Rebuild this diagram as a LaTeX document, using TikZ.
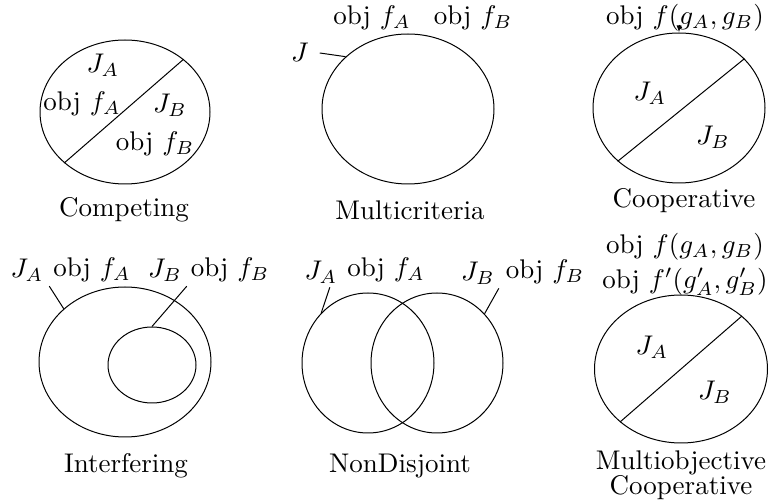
\RequirePackage{fix-cm}
\documentclass[tikz,border=0pt]{standalone}
\usepackage{tikz}
\usetikzlibrary{arrows.meta,shapes.geometric}

\begin{document}
\begin{tikzpicture}[
    x=1pt,y=-1pt,
    set/.style={ellipse,draw,inner sep=0pt},
    lbl/.style={font=\normalsize,scale=2.7,transform shape,inner sep=1pt},
    >={Latex[length=7pt,width=5pt]},line width=1pt
  ]
    \useasboundingbox (0,0) rectangle (777,502);
    % Competing
    \node[set,minimum width=170,minimum height=144] (cmp) at (125,112) {};
    \draw (cmp.220) -- (cmp.42);
    \node[lbl] (cmpJA) at (103,65) {$J_A$};
    \node[lbl] (cmpfA) at (82,104) {obj $f_A$};
    \node[lbl] (cmpJB) at (170,105) {$J_B$};
    \node[lbl] (cmpfB) at (155,144) {obj $f_B$};
    \node[lbl] (cmpcap) at (124,210) {Competing};
    % Multicriteria
    \node[set,minimum width=172,minimum height=150] (mul) at (408,109) {};
    \node[lbl] (mulfA) at (372,18) {obj $f_A$};
    \node[lbl] (mulfB) at (473,18) {obj $f_B$};
    \node[lbl] (mulJ) at (300,52) {$J$};
    \draw[shorten <=7pt] (mulJ.east) -- (mul.140);
    \node[lbl] (mulcap) at (410,210) {Multicriteria};
    % Cooperative
    \node[set,minimum width=172,minimum height=150] (coo) at (679,108) {};
    \draw (coo.221) -- (coo.37);
    \node[lbl] (cooJA) at (650,93) {$J_A$};
    \node[lbl] (cooJB) at (713,137) {$J_B$};
    \node[lbl] (coof) at (685,18) {obj $f(g_A,g_B)$};
    \draw[->] (coof.base -| coo.north) -- (coo.north);
    \node[lbl] (coocap) at (684,201) {Cooperative};
    % Interfering
    \node[set,minimum width=172,minimum height=150] (ifo) at (125,362) {};
    \node[set,minimum width=88,minimum height=76] (ifi) at (152,365) {};
    \node[lbl] (ifJA) at (27,270) {$J_A$};
    \node[lbl] (iffA) at (92,270) {obj $f_A$};
    \node[lbl] (ifJB) at (165,270) {$J_B$};
    \node[lbl] (iffB) at (230,270) {obj $f_B$};
    \draw (iffA.south west) -- (ifo.139);
    \draw (iffB.south west) -- (ifi.north);
    \node[lbl] (ifcap) at (126,466) {Interfering};
    % NonDisjoint
    \node[set,minimum width=132,minimum height=140] (ndl) at (368,363) {};
    \node[set,minimum width=132,minimum height=140] (ndr) at (437,363) {};
    \node[lbl] (ndJA) at (321,272) {$J_A$};
    \node[lbl] (ndfA) at (386,270) {obj $f_A$};
    \node[lbl] (ndJB) at (478,273) {$J_B$};
    \node[lbl] (ndfB) at (545,272) {obj $f_B$};
    \draw (ndJA.-60) -- (ndl.133);
    \draw (ndJB.south east) -- (ndr.46);
    \node[lbl] (ndcap) at (400,466) {NonDisjoint};
    % Multiobjective Cooperative
    \node[set,minimum width=173,minimum height=148] (moc) at (681,369) {};
    \draw (moc.221) -- (moc.41);
    \node[lbl] (mocJA) at (652,347) {$J_A$};
    \node[lbl] (mocJB) at (715,392) {$J_B$};
    \node[lbl,inner sep=0pt] (mocf) at (685,247) {obj $f(g_A,g_B)$};
    \node[lbl,inner sep=0pt] (mocg) at (685,282) {obj $f'(g'_A,g'_B)$};
    \node[lbl,align=center,font=\fontsize{10}{9.4}\selectfont] (moccap) at (681,475) {Multiobjective\\Cooperative};
  \end{tikzpicture}
\end{document}
